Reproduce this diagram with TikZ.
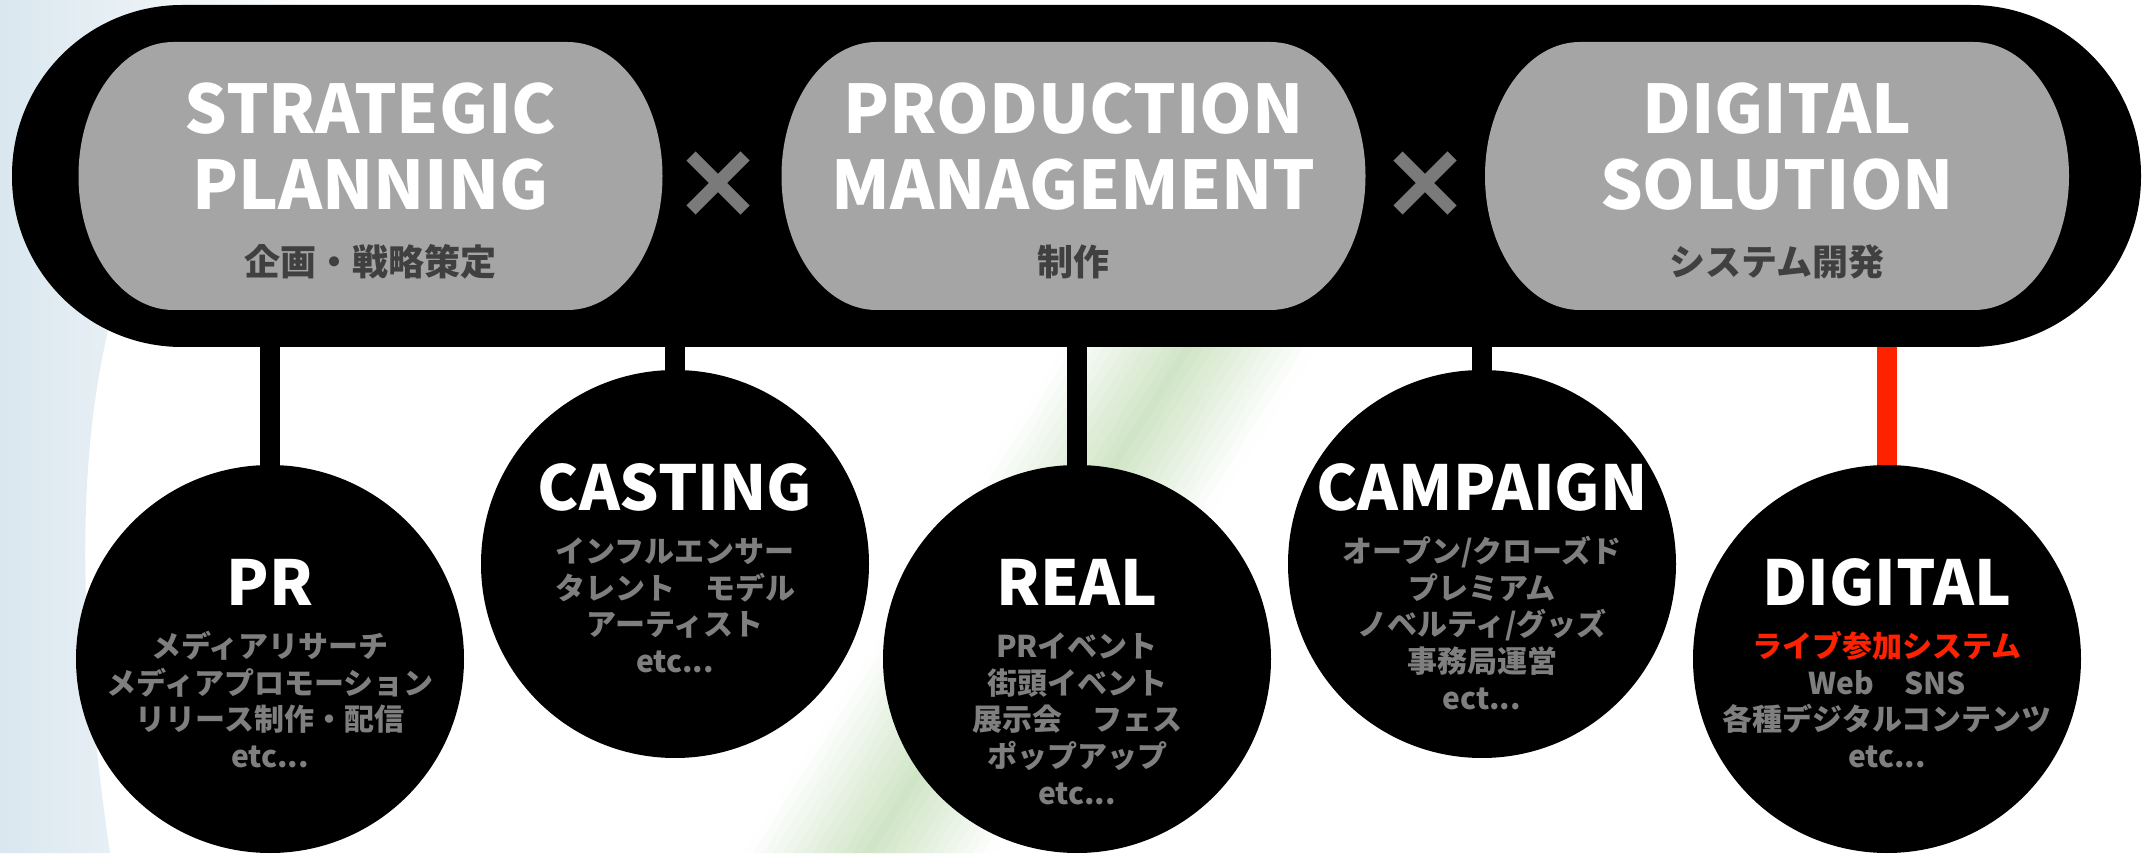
\documentclass[tikz,border=0pt]{standalone}
\usepackage{fontspec}
\usepackage{xcolor}
\usepackage{tikz}
\newfontfamily\jpfont{Noto Sans CJK JP}

\definecolor{pillgray}{HTML}{A5A5A5}
\definecolor{subgray}{HTML}{404040}
\definecolor{bodygray}{HTML}{7F7F7F}
\definecolor{crossgray}{HTML}{7A7A7A}
\definecolor{hotred}{HTML}{FF2200}
\definecolor{bgblue}{HTML}{DAE7EF}
\definecolor{bggreen}{HTML}{D0E5C6}

\tikzset{
  bar/.style={fill=black, minimum width=1064.5pt, minimum height=171pt, rounded corners=85pt, inner sep=0pt},
  circ/.style={circle, fill=black, minimum size=194pt, inner sep=0pt},
  stem/.style={line width=10pt, draw=black},
  cross/.style={line width=6.5pt, draw=crossgray},
  pilltitle/.style={text=white, font=\jpfont\bfseries\fontsize{33.5}{38}\selectfont, align=center, anchor=base, inner sep=0pt},
  pillsub/.style={text=subgray, font=\jpfont\bfseries\fontsize{18}{20}\selectfont, anchor=base, inner sep=0pt},
  circtitle/.style={text=white, font=\jpfont\bfseries\fontsize{31}{36}\selectfont, anchor=base, inner sep=0pt},
  circbody/.style={text=bodygray, font=\jpfont\bfseries\fontsize{15}{18.3}\selectfont, align=center, anchor=base, inner sep=0pt}
}

\begin{document}
\begin{tikzpicture}[x=0.5pt,y=0.5pt]
        \useasboundingbox (0,0) rectangle (2149,853);
        % soft background swooshes
        \shade[left color=bgblue, right color=white] (0,0) -- (0,853) -- (330,853) .. controls (120,700) and (40,480) .. (110,0) -- cycle;
        \foreach \i [evaluate=\i as \p using int(100-8*abs(\i))] in {-12,...,12}
        \fill[bggreen!\p!white] (863+\i*10,0) -- (877+\i*10,0) -- (1198+\i*10,506) -- (1184+\i*10,506) -- cycle;

        % main bar and the three pills
        \node[bar] (bar) at (1076.5,677) {};
        \foreach \cx in {370.5,1073.5,1777}
        \fill[pillgray] (\cx-197,811) -- (\cx+197,811) arc[start angle=90,end angle=-90,x radius=47.5pt,y radius=67pt] -- (\cx-197,543) arc[start angle=270,end angle=90,x radius=47.5pt,y radius=67pt] -- cycle;

        \node[pilltitle] (sp) at (370.5,643) {STRATEGIC\\PLANNING};
        \node[pillsub] (spjp) at (370.5,577) {企画・戦略策定};
        \node[pilltitle] (pm) at (1073.5,643) {PRODUCTION\\MANAGEMENT};
        \node[pillsub] (pmjp) at (1073.5,577) {制作};
        \node[pilltitle] (ds) at (1777,643) {DIGITAL\\SOLUTION};
        \node[pillsub] (dsjp) at (1777,577) {システム開発};

        % the two crosses
        \coordinate (x1) at (718,670);
        \coordinate (x2) at (1425,670);
        \draw[cross] (x1) +(-27,-27) -- +(27,27) +(-27,27) -- +(27,-27);
        \draw[cross] (x2) +(-27,-27) -- +(27,27) +(-27,27) -- +(27,-27);

        % circles
        \node[circ] (pr) at (270,194) {};
        \node[circ] (casting) at (675,289) {};
        \node[circ] (real) at (1077,194) {};
        \node[circ] (campaign) at (1482,289) {};
        \node[circ] (digital) at (1887,194) {};

        \draw[stem] (bar.south -| pr.north) -- (pr.north);
        \draw[stem] (bar.south -| casting.north) -- (casting.north);
        \draw[stem] (bar.south -| real.north) -- (real.north);
        \draw[stem] (bar.south -| campaign.north) -- (campaign.north);
        \draw[stem, draw=hotred] (bar.south -| digital.north) -- (digital.north);

        \node[circtitle] (prtitle) at ([yshift=-70.5pt]pr.north) {PR};
        \node[circbody] (prbody) at ([yshift=-151.4pt]pr.north) {メディアリサーチ\\メディアプロモーション\\リリース制作・配信\\etc...};
        \node[circtitle] (castingtitle) at ([yshift=-70.5pt]casting.north) {CASTING};
        \node[circbody] (castingbody) at ([yshift=-151.4pt]casting.north) {インフルエンサー\\タレント　モデル\\アーティスト\\etc...};
        \node[circtitle] (realtitle) at ([yshift=-70.5pt]real.north) {REAL};
        \node[circbody] (realbody) at ([yshift=-169.7pt]real.north) {PRイベント\\街頭イベント\\展示会　フェス\\ポップアップ\\etc...};
        \node[circtitle] (campaigntitle) at ([yshift=-70.5pt]campaign.north) {CAMPAIGN};
        \node[circbody] (campaignbody) at ([yshift=-169.7pt]campaign.north) {オープン/クローズド\\プレミアム\\ノベルティ/グッズ\\事務局運営\\ect...};
        \node[circtitle] (digitaltitle) at ([yshift=-70.5pt]digital.north) {DIGITAL};
        \node[circbody] (digitalbody) at ([yshift=-151.4pt]digital.north) {\textcolor{hotred}{ライブ参加システム}\\Web　SNS\\各種デジタルコンテンツ\\etc...};
    \end{tikzpicture}
\end{document}
